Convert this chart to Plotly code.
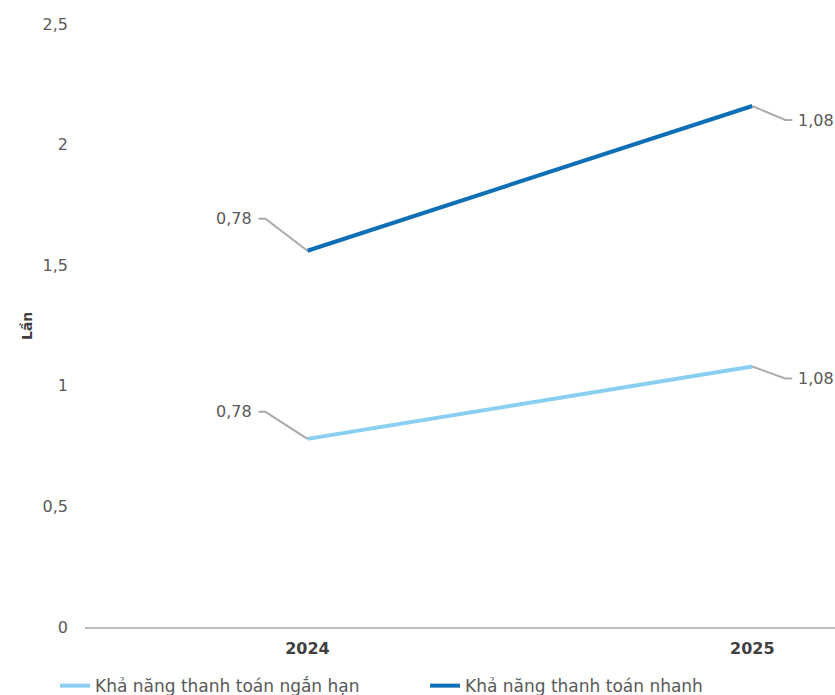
import plotly.graph_objects as go

years = ["2024", "2025"]
short_term = [0.78, 1.08]
quick = [0.78, 1.08]
series_names = ["Khả năng thanh toán ngắn hạn", "Khả năng thanh toán nhanh"]
colors = ["#8ACFF0", "#0F6FB6"]
y_ticks = [0, 0.5, 1, 1.5, 2, 2.5]
y_ticktext = ["0", "0,5", "1", "1,5", "2", "2,5"]

FONT = "DejaVu Sans"
TXT = "#595959"
LEADER = "#ABABAB"

fig = go.Figure()
fig.add_trace(go.Scatter(x=years, y=short_term, name=series_names[0], mode="lines",
                         stackgroup="s", fill="none", line=dict(color=colors[0], width=4)))
fig.add_trace(go.Scatter(x=years, y=quick, name=series_names[1], mode="lines",
                         stackgroup="s", fill="none", line=dict(color=colors[1], width=4)))

stacked_top = [a + b for a, b in zip(short_term, quick)]
shapes = []
annotations = []

def fmt(v):
    return f"{v:.2f}".replace(".", ",")

def add_label(xi, yval, text, side, rise):
    if side == "left":
        path = f"M0,0 L-42,{rise} L-49,{rise}"
        xshift, anchor = -53, "right"
    else:
        path = f"M0,0 L33,{rise} L40,{rise}"
        xshift, anchor = 44, "left"
    shapes.append(dict(type="path", xref="x", yref="y", xsizemode="pixel", ysizemode="pixel",
                       xanchor=xi, yanchor=yval, path=path,
                       line=dict(color=LEADER, width=2)))
    annotations.append(dict(x=xi, y=yval, xref="x", yref="y", text=text, showarrow=False,
                            xshift=xshift, yshift=rise, xanchor=anchor, yanchor="middle",
                            font=dict(family=FONT, size=16, color=TXT)))

# category positions are given as indices 0 (2024) and 1 (2025)
add_label(0, short_term[0], fmt(short_term[0]), "left", 27)
add_label(1, short_term[1], fmt(short_term[1]), "right", -12)
add_label(0, stacked_top[0], fmt(quick[0]), "left", 32)
add_label(1, stacked_top[1], fmt(quick[1]), "right", -14)

annotations.append(dict(x=(27 - 85) / 750, y=(627 - 326) / 603, xref="paper", yref="paper",
                        xanchor="center", yanchor="middle",
                        text="<b>Lần</b>", showarrow=False, textangle=-90,
                        font=dict(family=FONT, size=14, color="#404040")))

fig.update_layout(
    width=835, height=695,
    margin=dict(l=85, r=0, t=24, b=68, autoexpand=False),
    paper_bgcolor="white", plot_bgcolor="white",
    font=dict(family=FONT, size=16, color=TXT),
    showlegend=True,
    legend=dict(orientation="h", x=-0.04, y=-0.098, xanchor="left", yanchor="middle",
                entrywidth=325, entrywidthmode="pixels",
                font=dict(family=FONT, size=17, color=TXT), traceorder="normal"),
    xaxis=dict(type="category", range=[-0.5, 1.186], showgrid=False, showline=True,
               linecolor="#BDBDBD", linewidth=2, ticks="", automargin=False,
               ticklabelstandoff=6,
               tickfont=dict(family=FONT, size=16, color="#404040", weight="bold")),
    yaxis=dict(range=[0, 2.5], tickvals=y_ticks, ticktext=y_ticktext, showgrid=False,
               zeroline=False, showline=False, ticks="", ticklabelstandoff=16,
               automargin=False, tickfont=dict(family=FONT, size=16, color=TXT)),
    shapes=shapes, annotations=annotations,
)
fig.write_html(
    "out.html",
    config={"displayModeBar": False},
    post_script="document.body.style.margin='0';document.documentElement.style.overflow='hidden';",
)
